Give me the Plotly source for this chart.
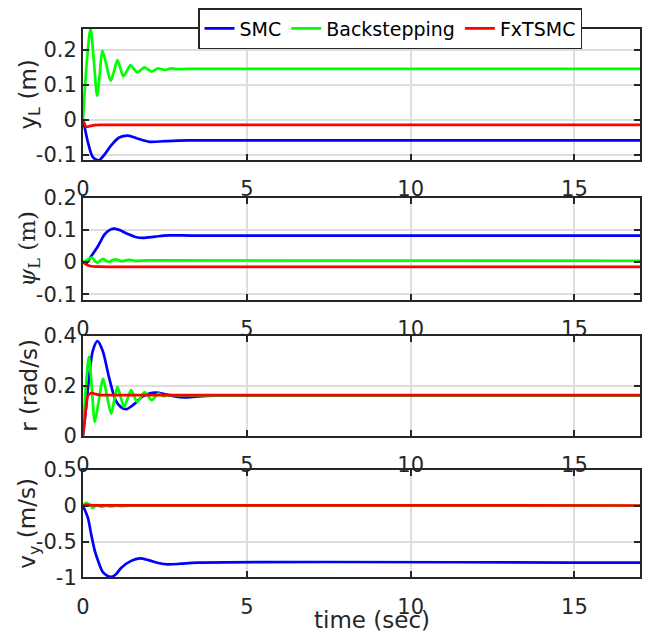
import plotly.graph_objects as go

# ---------------- data ----------------
series_names = ["SMC", "Backstepping", "FxTSMC"]
series_colors = ["#0000ff", "#00ff00", "#ff0000"]
t_end = 17

# subplot 1: y_L (m)
yl_smc_t = [0, 0.07, 0.15, 0.3, 0.48, 0.65, 0.86, 1.12, 1.37, 1.68, 2.03, 2.5, 3.2, 17]
yl_smc_v = [0, -0.03, -0.064, -0.107, -0.116, -0.1, -0.073, -0.05, -0.045, -0.054, -0.063, -0.061, -0.059, -0.059]
yl_bs_t = [0, 0.12, 0.23, 0.33, 0.43, 0.51, 0.59, 0.72, 0.84, 0.95, 1.05, 1.14, 1.23, 1.34, 1.45, 1.55,
           1.65, 1.77, 1.88, 1.99, 2.1, 2.2, 2.28, 2.4, 2.5, 2.7, 2.9, 3.2, 17]
yl_bs_v = [0, 0.17, 0.262, 0.17, 0.069, 0.13, 0.198, 0.155, 0.112, 0.14, 0.171, 0.148, 0.125, 0.14, 0.157, 0.146,
           0.136, 0.143, 0.150, 0.144, 0.138, 0.143, 0.147, 0.145, 0.143, 0.147, 0.145, 0.146, 0.146]
yl_fx_t = [0, 0.05, 0.1, 0.2, 0.35, 0.6, 17]
yl_fx_v = [0, -0.012, -0.02, -0.018, -0.015, -0.0143, -0.0143]

# subplot 2: psi_L
psi_smc_t = [0, 0.1, 0.25, 0.46, 0.66, 0.82, 0.96, 1.15, 1.37, 1.6, 1.83, 2.2, 2.6, 3.5, 17]
psi_smc_v = [0, -0.004, 0.018, 0.05, 0.086, 0.1, 0.104, 0.098, 0.087, 0.078, 0.075, 0.079, 0.083, 0.082, 0.082]
psi_bs_t = [0, 0.12, 0.27, 0.35, 0.43, 0.52, 0.61, 0.7, 0.8, 0.9, 1.0, 1.2, 1.4, 1.6, 2.0, 17]
psi_bs_v = [0, 0.006, 0.014, 0.005, -0.002, 0.004, 0.01, 0.004, 0.001, 0.006, 0.008, 0.003, 0.007, 0.004, 0.005, 0.004]
psi_fx_t = [0, 0.1, 0.25, 0.5, 1.0, 17]
psi_fx_v = [0, -0.008, -0.013, -0.0145, -0.015, -0.015]

# subplot 3: r (rad/s)
r_smc_t = [0, 0.1, 0.2, 0.3, 0.44, 0.6, 0.8, 1.0, 1.15, 1.32, 1.55, 1.8, 2.0, 2.24, 2.5, 2.8, 3.1, 3.5, 4, 17]
r_smc_v = [0, 0.12, 0.25, 0.34, 0.378, 0.34, 0.23, 0.14, 0.115, 0.106, 0.125, 0.155, 0.168, 0.172, 0.166,
           0.157, 0.153, 0.157, 0.16, 0.16]
r_bs_t = [0, 0.09, 0.18, 0.27, 0.36, 0.48, 0.61, 0.73, 0.86, 0.95, 1.05, 1.15, 1.25, 1.36, 1.47, 1.56, 1.65,
          1.77, 1.88, 1.99, 2.1, 2.2, 2.3, 2.45, 2.6, 3.0, 17]
r_bs_v = [0, 0.2, 0.315, 0.19, 0.055, 0.14, 0.228, 0.16, 0.088, 0.14, 0.195, 0.155, 0.115, 0.148, 0.182, 0.158,
          0.135, 0.155, 0.174, 0.157, 0.142, 0.155, 0.168, 0.158, 0.162, 0.161, 0.161]
r_fx_t = [0, 0.05, 0.1, 0.15, 0.25, 0.35, 0.5, 0.8, 17]
r_fx_v = [0, 0.06, 0.12, 0.16, 0.171, 0.168, 0.163, 0.162, 0.162]

# subplot 4: v_y (m/s)
vy_smc_t = [0, 0.15, 0.25, 0.36, 0.46, 0.61, 0.84, 1.0, 1.17, 1.47, 1.73, 2.0, 2.3, 2.59, 3.0, 3.5, 17]
vy_smc_v = [0, -0.17, -0.40, -0.63, -0.77, -0.93, -0.995, -0.96, -0.865, -0.77, -0.736, -0.76, -0.80, -0.82,
            -0.81, -0.795, -0.795]
vy_bs_t = [0, 0.1, 0.2, 0.3, 0.42, 0.55, 0.7, 0.85, 1.0, 1.2, 1.4, 17]
vy_bs_v = [0, 0.04, 0.015, -0.03, 0.01, -0.015, 0.0, -0.01, 0.0, -0.005, 0, 0]
vy_fx_t = [0, 0.1, 0.2, 0.4, 17]
vy_fx_v = [0, 0.012, 0.01, 0.005, 0.004]

# axis ticks / labels
x_ticks = [0, 5, 10, 15]
y_ranges = [[-0.115, 0.26], [-0.118, 0.2], [0, 0.4], [-1, 0.5]]
y_tickvals = [[-0.1, 0, 0.1, 0.2], [-0.1, 0, 0.1, 0.2], [0, 0.2, 0.4], [-1, -0.5, 0, 0.5]]
y_ticktext = [["-0.1", "0", "0.1", "0.2"], ["-0.1", "0", "0.1", "0.2"], ["0", "0.2", "0.4"], ["-1", "-0.5", "0", "0.5"]]
y_titles = ["y<sub>L</sub> (m)",
            "<span style='font-family:DejaVu Serif'><i>ψ</i><sub>L</sub> (m)</span>",
            "r (rad/s)",
            "v<sub>y</sub> (m/s)"]
x_title = "time (sec)"

panels = [
    [(yl_smc_t, yl_smc_v), (yl_bs_t, yl_bs_v), (yl_fx_t, yl_fx_v)],
    [(psi_smc_t, psi_smc_v), (psi_bs_t, psi_bs_v), (psi_fx_t, psi_fx_v)],
    [(r_smc_t, r_smc_v), (r_bs_t, r_bs_v), (r_fx_t, r_fx_v)],
    [(vy_smc_t, vy_smc_v), (vy_bs_t, vy_bs_v), (vy_fx_t, vy_fx_v)],
]

# ---------------- layout ----------------
OFF = 8                       # page body margin of the html page
W, H = 657 - OFF, 636 - OFF   # figure fits the window exactly
x_px = (83, 640)              # page pixel positions of the plot areas
y_px = [(29, 160), (197.7, 300), (335.7, 435.7), (470, 577.3)]
FONT = "DejaVu Sans"
AX = "#262626"


def px_x(p):
    return (p - OFF) / W


def px_y(p):
    return 1 - (p - OFF) / H


fig = go.Figure()
for i, panel in enumerate(panels):
    xa = "x" if i == 0 else f"x{i+1}"
    ya = "y" if i == 0 else f"y{i+1}"
    for j, (tt, vv) in enumerate(panel):
        fig.add_trace(go.Scatter(
            x=tt, y=vv, mode="lines", name=series_names[j],
            line=dict(color=series_colors[j], width=2.7, shape="spline", smoothing=0.8),
            xaxis=xa, yaxis=ya, showlegend=(i == 0), legendrank=j,
        ))

common_axis = dict(
    showline=True, linecolor=AX, linewidth=2, mirror="ticks",
    ticks="inside", ticklen=6, tickwidth=1.5, tickcolor=AX,
    showgrid=True, gridcolor="#dedede", gridwidth=1.5, zeroline=False,
    tickfont=dict(family=FONT, size=21, color=AX), automargin=False,
)

layout = dict(
    template="none",
    width=W, height=H, autosize=False,
    margin=dict(l=0, r=0, t=0, b=0, pad=0),
    paper_bgcolor="white", plot_bgcolor="white",
    showlegend=True,
    legend=dict(
        orientation="h", x=px_x(198), y=px_y(OFF), xanchor="left", yanchor="top",
        bgcolor="white", bordercolor=AX, borderwidth=1.5,
        font=dict(family=FONT, size=19, color="#000000"),
        tracegroupgap=0, itemwidth=30,
    ),
    annotations=[],
)

for i in range(4):
    xk = "xaxis" if i == 0 else f"xaxis{i+1}"
    yk = "yaxis" if i == 0 else f"yaxis{i+1}"
    top, bot = y_px[i]
    layout[xk] = dict(common_axis, domain=[px_x(x_px[0]), px_x(x_px[1])], range=[0, t_end],
                      tickvals=x_ticks, ticktext=[str(v) for v in x_ticks],
                      anchor="y" if i == 0 else f"y{i+1}", ticklabelstandoff=9)
    layout[yk] = dict(common_axis, domain=[px_y(bot), px_y(top)], range=y_ranges[i],
                      tickvals=y_tickvals[i], ticktext=y_ticktext[i],
                      anchor="x" if i == 0 else f"x{i+1}")
    layout["annotations"].append(dict(
        text=y_titles[i], textangle=-90, xref="paper", yref="paper",
        x=px_x(29), y=px_y((top + bot) / 2), xanchor="center", yanchor="middle",
        showarrow=False, font=dict(family=FONT, size=23, color=AX),
    ))

layout["annotations"].append(dict(
    text=x_title, xref="paper", yref="paper", x=px_x(372), y=px_y(620),
    xanchor="center", yanchor="middle", showarrow=False,
    font=dict(family=FONT, size=23, color=AX),
))

fig.update_layout(**layout)
fig.write_html("out.html")
